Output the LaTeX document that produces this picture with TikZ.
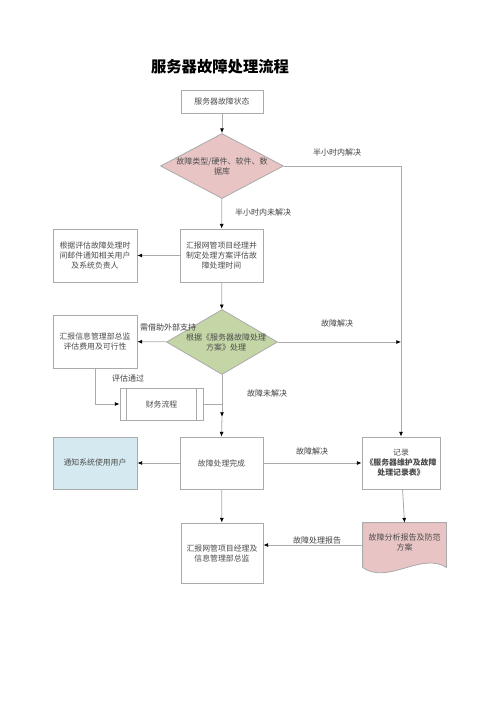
\documentclass[tikz,border=0pt]{standalone}
\usepackage{fontspec}
\setmainfont{Noto Sans CJK SC}
\usepackage{tikz}
\usetikzlibrary{shapes.geometric}
\usetikzlibrary{arrows.meta}
\definecolor{rosy}{RGB}{232,196,196}
\definecolor{sage}{RGB}{196,214,166}
\definecolor{icy}{RGB}{212,234,240}
\definecolor{linegray}{RGB}{170,170,170}

\begin{document}
\begin{tikzpicture}[x=0.75pt,y=-0.75pt]
\tikzstyle{pbox}=[rectangle,draw=linegray,fill=white,line width=0.6pt,align=center,text=black!70,font=\fontsize{5.9}{7.5}\selectfont,inner sep=1pt]
\tikzstyle{pdiam}=[diamond,draw=linegray,line width=0.6pt,inner sep=0pt]
\tikzstyle{plabel}=[text=black!75,font=\fontsize{6}{7.5}\selectfont,align=center]
\tikzstyle{arr}=[-{Latex[black,length=3.5pt,width=3pt]},draw=linegray,line width=0.6pt]
\tikzstyle{seg}=[draw=linegray,line width=0.6pt]

\useasboundingbox (0,0) rectangle (500,707);

\node [font=\fontsize{11.5}{13}\selectfont\bfseries] (T) at (220,67) {服务器故障处理流程};

\node [pbox, minimum width=61.5pt, minimum height=17.25pt] (A) at (222,101.5) {服务器故障状态};
\node [pdiam, fill=rosy, minimum width=92.25pt, minimum height=48.75pt] (B) at (222,166) {};
\node [plabel, text=black!70] (Bt) at (B) {故障类型/硬件、软件、数\\据库};
\node [pbox, minimum width=62.25pt, minimum height=39.75pt] (C) at (221.5,255.5) {汇报网管项目经理并\\制定处理方案评估故\\障处理时间};
\node [pbox, minimum width=63pt, minimum height=39.75pt] (D) at (95,255.5) {根据评估故障处理时\\间邮件通知相关用户\\及系统负责人};
\node [pdiam, fill=sage, minimum width=83.25pt, minimum height=48.75pt] (E) at (222,342) {};
\node [plabel, text=black!70] (Et) at (226,342) {根据《服务器故障处理\\方案》处理};
\node [pbox, minimum width=63pt, minimum height=39.75pt] (F) at (95,341.5) {汇报信息管理部总监\\评估费用及可行性};
\node [pbox, minimum width=62.25pt, minimum height=24pt] (G) at (161.5,404) {财务流程};
\draw [seg] ([xshift=5.25pt]G.north west) -- ([xshift=5.25pt]G.south west);
\draw [seg] ([xshift=-5.25pt]G.north east) -- ([xshift=-5.25pt]G.south east);
\node [pbox, minimum width=62.25pt, minimum height=39pt] (H) at (221.5,463) {故障处理完成};
\node [pbox, fill=icy, minimum width=63pt, minimum height=39pt] (I) at (95,463) {通知系统使用用户};
\node [pbox, minimum width=58.5pt, minimum height=39pt] (J) at (401,463) {记录\\{\bfseries《服务器维护及故障}\\{\bfseries 处理记录表》}};
\node [pbox, minimum width=61.5pt, minimum height=45pt] (K) at (222,553) {汇报网管项目经理及\\信息管理部总监};
\node [pbox, draw=none, fill=none, minimum width=62.25pt, minimum height=33pt] (L) at (404.5,545) {};
\fill [rosy] (L.south west) -- (L.north west) -- (L.north east) -- (L.south east) .. controls +(-25,-16) and +(25,18) .. (L.south west) -- cycle;
\draw [seg] (L.south west) -- (L.north west) -- (L.north east) -- (L.south east) .. controls +(-25,-16) and +(25,18) .. (L.south west);
\node [plabel, text=black!70] (Lt) at (404.5,542) {故障分析报告及防范\\方案};

\coordinate (M) at (222,417);

\draw [arr] (A) -- (B);
\draw [arr] (B) -- (C);
\draw [arr] (B.east) -| (J.north);
\draw [arr] (C) -- (D);
\draw [arr] (C) -- (E);
\draw [arr] (E) -- (F);
\draw [arr] (E.east) -- (E.east -| J.north);
\draw [arr] (F.south) |- (G.west);
\draw [seg] (G.east) -- (G.east -| M);
\draw [arr] (E.south) -- (M);
\draw [arr] (M) -- (H.north);
\draw [arr] (H) -- (I);
\draw [arr] (H) -- (J);
\draw [arr] (H) -- (K);
\draw [arr] (J) -- (L.north);
\draw [arr] (L.west) -- (L.west -| K.east);

\node [plabel] (l1) at (337,152) {半小时内解决};
\node [plabel] (l2) at (263,212) {半小时内未解决};
\node [plabel] (l3) at (168,327) {需借助外部支持};
\node [plabel] (l4) at (337,323) {故障解决};
\node [plabel] (l5) at (128,378) {评估通过};
\node [plabel] (l6) at (267,393) {故障未解决};
\node [plabel] (l7) at (312,451) {故障解决};
\node [plabel] (l8) at (317,540) {故障处理报告};

\end{tikzpicture}
\end{document}
